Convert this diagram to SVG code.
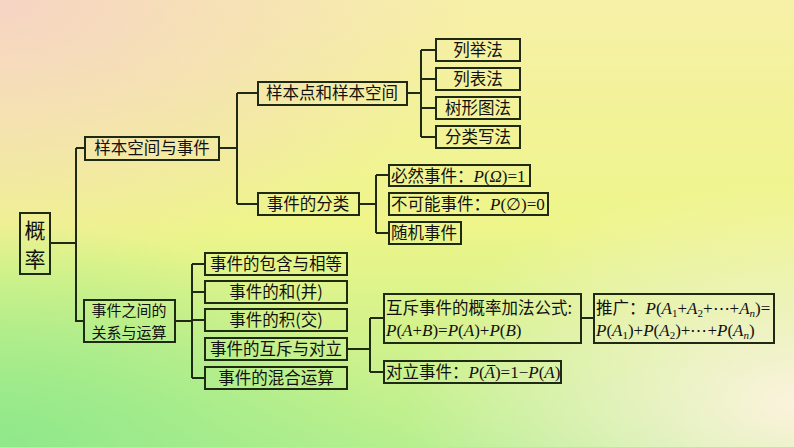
<svg xmlns="http://www.w3.org/2000/svg" width="794" height="447" viewBox="0 0 794 447">
<defs>
<linearGradient id="bg" x1="0" y1="0" x2="0" y2="1">
<stop offset="0" stop-color="#f7f0a8"/><stop offset="0.5" stop-color="#eef58a"/><stop offset="1" stop-color="#b6ef8e"/>
</linearGradient>
<radialGradient id="pk" cx="0" cy="0" r="0.6"><stop offset="0" stop-color="#f6d4c4"/><stop offset="1" stop-color="#f6d4c4" stop-opacity="0"/></radialGradient>
<radialGradient id="rt" cx="1" cy="0.9" r="0.5"><stop offset="0" stop-color="#fbf3dc"/><stop offset="1" stop-color="#fbf3dc" stop-opacity="0"/></radialGradient>
<radialGradient id="gl" cx="0" cy="1" r="0.5"><stop offset="0" stop-color="#8fe88a"/><stop offset="1" stop-color="#8fe88a" stop-opacity="0"/></radialGradient>
<style>
.b{fill:none;stroke:#1e2a14;stroke-width:2}
.c{fill:none;stroke:#1e2a14;stroke-width:2}
text{font-family:"Noto Sans CJK SC","Liberation Sans",sans-serif;font-size:16.5px;fill:#111}
.big{font-size:21px}
.t2{font-size:15px}
.m{font-family:"Liberation Serif",serif;font-style:italic;font-size:17px}
.n{font-family:"Liberation Serif",serif;font-style:normal;font-size:17px}
.s{font-family:"Liberation Serif",serif;font-style:normal;font-size:11px}
.si{font-family:"Liberation Serif",serif;font-style:italic;font-size:11px}
</style>
</defs>
<rect width="794" height="447" fill="url(#bg)"/>
<rect width="794" height="447" fill="url(#pk)"/>
<rect width="794" height="447" fill="url(#gl)"/>
<rect width="794" height="447" fill="url(#rt)"/>
<g id="connectors" class="c">
<path d="M50 243H76M76 148V322M76 148H85M76 321H84"/>
<path d="M219 148H237M237 93V204M237 93H258M237 204H258"/>
<path d="M407 93H421M421 50V137M421 50H436M421 79H436M421 108H436M421 137H436"/>
<path d="M359 204H376M376 175V233M376 175H389M376 233H389"/>
<path d="M175 321H192M192 264V378M192 264H205M192 292H205M192 320H205M192 378H205"/>
<path d="M347 349H370M370 318V372M370 318H384M370 372H384"/>
<path d="M581 318H594"/>
</g>
<g id="root"><rect class="b" x="20" y="213" width="30" height="61"/><text class="big" x="35" y="238" text-anchor="middle">概</text><text class="big" x="35" y="267" text-anchor="middle">率</text></g>
<g id="n1"><rect class="b" x="85" y="137" width="134" height="23"/><text x="152" y="154" text-anchor="middle">样本空间与事件</text></g>
<g id="n2"><rect class="b" x="84" y="300" width="91" height="42"/><text class="t2" x="129" y="316" text-anchor="middle">事件之间的</text><text class="t2" x="129" y="338" text-anchor="middle">关系与运算</text></g>
<g id="n3"><rect class="b" x="258" y="82" width="149" height="23"/><text x="332" y="99" text-anchor="middle">样本点和样本空间</text></g>
<g id="n4"><rect class="b" x="258" y="193" width="101" height="22"/><text x="308" y="210" text-anchor="middle">事件的分类</text></g>
<g id="l1"><rect class="b" x="436" y="39" width="84" height="22"/><text x="478" y="56" text-anchor="middle">列举法</text></g>
<g id="l2"><rect class="b" x="436" y="68" width="84" height="22"/><text x="478" y="85" text-anchor="middle">列表法</text></g>
<g id="l3"><rect class="b" x="436" y="97" width="84" height="22"/><text x="478" y="114" text-anchor="middle">树形图法</text></g>
<g id="l4"><rect class="b" x="436" y="126" width="84" height="22"/><text x="478" y="143" text-anchor="middle">分类写法</text></g>
<g id="e1"><rect class="b" x="389" y="165" width="141" height="21"/><text x="391" y="182">必然事件：<tspan class="m">P</tspan><tspan class="n">(</tspan><tspan class="m">Ω</tspan><tspan class="n">)=1</tspan></text></g>
<g id="e2"><rect class="b" x="389" y="193" width="159" height="22"/><text x="391" y="210">不可能事件：<tspan class="m">P</tspan><tspan class="n">(∅)=0</tspan></text></g>
<g id="e3"><rect class="b" x="389" y="222" width="72" height="22"/><text x="391" y="239">随机事件</text></g>
<g id="r1"><rect class="b" x="205" y="253" width="142" height="22"/><text x="276" y="270" text-anchor="middle">事件的包含与相等</text></g>
<g id="r2"><rect class="b" x="205" y="281" width="142" height="22"/><text x="276" y="298" text-anchor="middle">事件的和(并)</text></g>
<g id="r3"><rect class="b" x="205" y="309" width="142" height="22"/><text x="276" y="326" text-anchor="middle">事件的积(交)</text></g>
<g id="r4"><rect class="b" x="205" y="338" width="142" height="22"/><text x="276" y="355" text-anchor="middle">事件的互斥与对立</text></g>
<g id="r5"><rect class="b" x="205" y="367" width="142" height="22"/><text x="276" y="384" text-anchor="middle">事件的混合运算</text></g>
<g id="f1"><rect class="b" x="384" y="294" width="197" height="49"/><text x="386" y="314">互斥事件的概率加法公式:</text><text x="386" y="336" class="n"><tspan class="m">P</tspan>(<tspan class="m">A</tspan>+<tspan class="m">B</tspan>)=<tspan class="m">P</tspan>(<tspan class="m">A</tspan>)+<tspan class="m">P</tspan>(<tspan class="m">B</tspan>)</text></g>
<g id="f2"><rect class="b" x="384" y="361" width="177" height="22"/><text x="386" y="378">对立事件：<tspan class="m">P</tspan><tspan class="n">(</tspan><tspan class="m">A&#x305;</tspan><tspan class="n">)=1−</tspan><tspan class="m">P</tspan><tspan class="n">(</tspan><tspan class="m">A</tspan><tspan class="n">)</tspan></text></g>
<g id="f3"><rect class="b" x="594" y="294" width="180" height="49"/><text x="596" y="314">推广：<tspan class="m">P</tspan><tspan class="n">(</tspan><tspan class="m">A</tspan><tspan class="s" dy="3">1</tspan><tspan class="n" dy="-3">+</tspan><tspan class="m">A</tspan><tspan class="s" dy="3">2</tspan><tspan class="n" dy="-3">+⋯+</tspan><tspan class="m">A</tspan><tspan class="si" dy="3">n</tspan><tspan class="n" dy="-3">)=</tspan></text><text x="596" y="336" class="n"><tspan class="m">P</tspan>(<tspan class="m">A</tspan><tspan class="s" dy="3">1</tspan><tspan dy="-3">)+</tspan><tspan class="m">P</tspan>(<tspan class="m">A</tspan><tspan class="s" dy="3">2</tspan><tspan dy="-3">)+⋯+</tspan><tspan class="m">P</tspan>(<tspan class="m">A</tspan><tspan class="si" dy="3">n</tspan><tspan dy="-3">)</tspan></text></g>
</svg>
